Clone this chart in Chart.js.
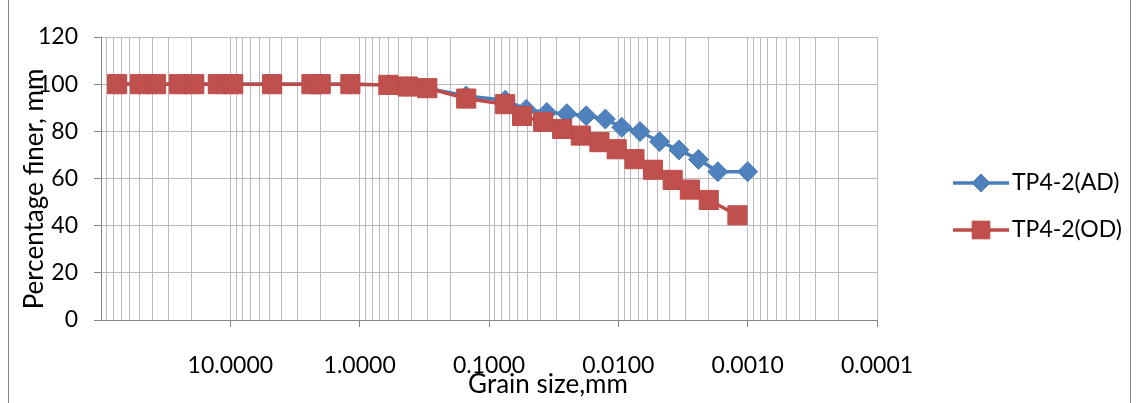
<!DOCTYPE html>
<html>
<head>
<meta charset="utf-8">
<script src="https://cdn.jsdelivr.net/npm/chart.js@4.4.1/dist/chart.umd.min.js"></script>
<style>
  html, body { margin: 0; padding: 0; background: #fff; }
  canvas { display: block; }
</style>
</head>
<body>
<canvas id="gradingChart" width="1139" height="403"></canvas>
<script>
// Particle size distribution for sample TP4-2, air dried (AD) vs oven dried (OD)
const seriesNames = ['TP4-2(AD)', 'TP4-2(OD)'];

// sieve openings, mm (same for both tests)
const sieveSizes = [75, 50, 37.5, 25, 19, 12.5, 9.5, 4.75, 2.36, 2.0, 1.18, 0.6, 0.425, 0.3, 0.15, 0.075];

// hydrometer equivalent diameters, mm
const hydroSizesAD = [0.0516, 0.0357, 0.0250, 0.0177, 0.0126, 0.0094, 0.0068, 0.0048, 0.0034, 0.0024, 0.0017, 0.0010];
const hydroSizesOD = [0.0555, 0.0381, 0.0272, 0.0195, 0.0140, 0.0103, 0.0075, 0.0054, 0.0038, 0.0028, 0.0020, 0.0012];

// percentage finer, sieve readings first then hydrometer readings
const finerAD = [100, 100, 100, 100, 100, 100, 100, 100, 100, 100, 100, 99.7, 99.0, 98.3, 95.0, 93.2,
                 89.3, 88.0, 87.5, 86.6, 85.2, 81.7, 79.9, 75.6, 72.1, 68.1, 62.9, 62.9];
const finerOD = [100, 100, 100, 100, 100, 100, 100, 100, 100, 100, 100, 99.7, 99.0, 98.3, 93.9, 91.5,
                 86.5, 84.0, 81.0, 78.2, 75.4, 72.4, 68.2, 63.7, 59.4, 55.3, 50.9, 44.4];

const xTickValues = [10, 1, 0.1, 0.01, 0.001, 0.0001];
const xTickLabels = ['10.0000', '1.0000', '0.1000', '0.0100', '0.0010', '0.0001'];
const yTickValues = [0, 20, 40, 60, 80, 100, 120];

const xTitle = 'Grain size,mm';
const yTitle = 'Percentage finer, mm';

const FONT = 'Lato';
const FONT_SIZE = 23;
const TITLE_SIZE = 26;
const GRID = '#bababa';
const AXIS = '#868686';

// log gridlines: 1..9 x each decade from 0.0001 up to 100
const logGrid = [];
for (let e = -4; e <= 1; e++) {
  for (let m = 1; m <= 9; m++) {
    logGrid.push(Number((m * Math.pow(10, e)).toPrecision(10)));
  }
}
logGrid.push(100);

function labelIndex(v) {
  return xTickValues.findIndex(t => Math.abs(Math.log10(v) - Math.log10(t)) < 1e-6);
}

const points = (xs, ys) => xs.map((x, i) => ({ x: x, y: ys[i] }));

const datasets = [
  {
    label: seriesNames[0],
    data: points(sieveSizes.concat(hydroSizesAD), finerAD),
    borderColor: '#4a7ebb',
    backgroundColor: '#4f81bd',
    pointBorderColor: '#4a7ebb',
    pointStyle: 'rectRot',
    pointRadius: 10,
    legendRadius: 9,
    order: 1
  },
  {
    label: seriesNames[1],
    data: points(sieveSizes.concat(hydroSizesOD), finerOD),
    borderColor: '#be4b48',
    backgroundColor: '#c0504d',
    pointBorderColor: '#be4b48',
    pointStyle: 'rect',
    pointRadius: 13.5,
    legendRadius: 12.5,
    order: 0
  }
];
datasets.forEach(d => {
  d.borderWidth = 3.5;
  d.pointBorderWidth = 1;
  d.pointHoverRadius = d.pointRadius;
  d.tension = 0;
  d.fill = false;
});

// background, outer frame, axis titles and the legend
const decor = {
  id: 'decor',
  beforeDraw(chart) {
    const ctx = chart.ctx;
    ctx.save();
    ctx.fillStyle = '#fff';
    ctx.fillRect(0, 0, chart.width, chart.height);
    ctx.restore();
  },
  afterDraw(chart) {
    const ctx = chart.ctx;
    ctx.save();
    ctx.strokeStyle = AXIS;
    ctx.lineWidth = 1;
    ctx.beginPath();
    ctx.moveTo(8.5, 0); ctx.lineTo(8.5, chart.height);
    ctx.moveTo(1130.5, 0); ctx.lineTo(1130.5, chart.height);
    ctx.stroke();

    ctx.fillStyle = '#000';
    ctx.font = TITLE_SIZE + 'px ' + FONT;
    ctx.textAlign = 'center';
    ctx.textBaseline = 'middle';
    ctx.fillText(xTitle, 548, 385);
    ctx.save();
    ctx.translate(35, 189);
    ctx.rotate(-Math.PI / 2);
    ctx.fillText(yTitle, 0, 0);
    ctx.restore();

    ctx.font = FONT_SIZE + 'px ' + FONT;
    const rows = [183, 230];
    datasets.forEach((d, i) => {
      const y = rows[i];
      ctx.strokeStyle = d.borderColor;
      ctx.lineWidth = 3.5;
      ctx.beginPath();
      ctx.moveTo(953, y);
      ctx.lineTo(1009, y);
      ctx.stroke();
      ctx.fillStyle = d.backgroundColor;
      ctx.strokeStyle = d.pointBorderColor;
      ctx.lineWidth = 1;
      Chart.helpers.drawPoint(ctx, { pointStyle: d.pointStyle, radius: d.legendRadius, rotation: 0, borderWidth: 1 }, 981, y);
      ctx.fillStyle = '#000';
      ctx.textAlign = 'left';
      ctx.fillText(d.label, 1012, y);
    });
    ctx.restore();
  }
};

new Chart(document.getElementById('gradingChart').getContext('2d'), {
  type: 'line',
  data: { datasets: datasets },
  plugins: [decor],
  options: {
    responsive: false,
    animation: false,
    layout: { padding: { top: 37, right: 262, bottom: 0, left: 0 } },
    plugins: {
      legend: { display: false },
      tooltip: { enabled: false }
    },
    scales: {
      x: {
        type: 'logarithmic',
        reverse: true,
        min: 0.0001,
        max: 100,
        afterBuildTicks(scale) {
          scale.ticks = logGrid.map(v => ({ value: v }));
        },
        afterFit(scale) { scale.height = 83; },
        grid: {
          color: GRID,
          lineWidth: 1,
          tickLength: 7,
          tickColor: c => (c.tick && labelIndex(c.tick.value) >= 0) ? AXIS : 'rgba(0,0,0,0)'
        },
        border: { color: AXIS, width: 1 },
        ticks: {
          autoSkip: false,
          maxRotation: 0,
          padding: 25,
          color: '#000',
          font: { family: FONT, size: FONT_SIZE },
          callback: v => {
            const i = labelIndex(v);
            return i >= 0 ? xTickLabels[i] : '';
          }
        }
      },
      y: {
        min: 0,
        max: 120,
        afterBuildTicks(scale) {
          scale.ticks = yTickValues.map(v => ({ value: v }));
        },
        afterFit(scale) { scale.width = 101; },
        grid: { color: GRID, lineWidth: 1, tickLength: 7, tickColor: AXIS },
        border: { color: AXIS, width: 1 },
        ticks: {
          padding: 16,
          color: '#000',
          font: { family: FONT, size: FONT_SIZE }
        }
      }
    }
  }
});
</script>
</body>
</html>
